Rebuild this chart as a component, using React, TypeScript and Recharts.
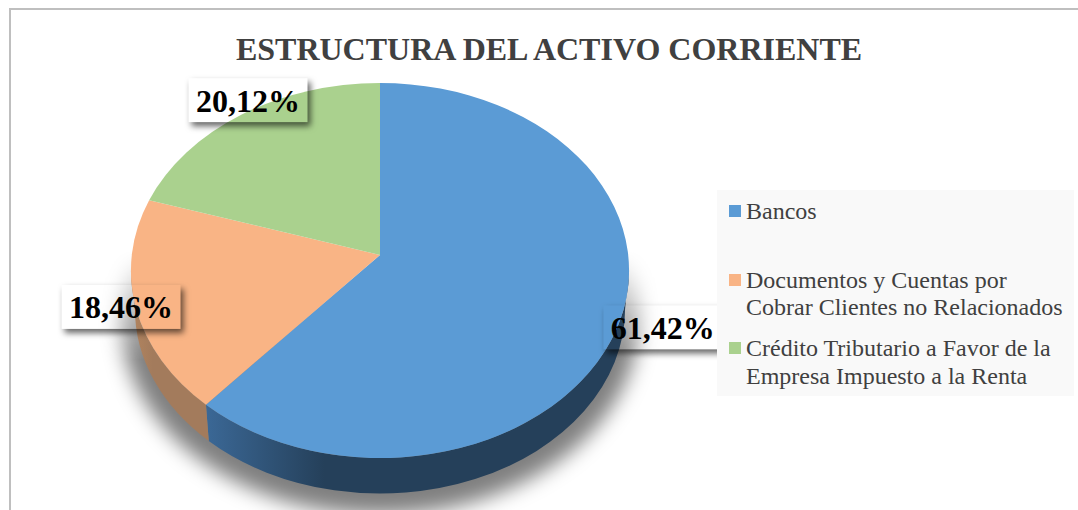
import React from "react";
import { PieChart, Pie, Cell, Legend } from "recharts";

const titleText = "ESTRUCTURA DEL ACTIVO CORRIENTE";
const categories = [
  "Bancos",
  "Documentos y Cuentas por Cobrar Clientes no Relacionados",
  "Crédito Tributario a Favor de la Empresa Impuesto a la Renta",
];
const values = [61.42, 18.46, 20.12];
const topColors = ["#5b9bd5", "#f9b485", "#aad18e"];
const wallStart = ["#3b6896", "#b3855f", "#6c8a5a"];
const wallEnd = ["#25405a", "#a37b5c", "#6c8a5a"];
const labelOffsets: [number, number][] = [[43.5, 5], [-14.5, 0.5], [5.5, -14]];

const chartData = categories.map((name, i) => ({ name, value: values[i] }));

const SERIF = "'Liberation Serif', serif";
const TILT = 0.0827;
const SCALE_Y = 0.748;
const SCALE_X = 0.9968;
const DEPTH = 38.5;
const FLOOR_SCALE = 0.984;

function project(cx: number, cy: number, r: number, deg: number) {
  const a = (deg * Math.PI) / 180;
  const u = Math.sin(a);
  const v = -Math.cos(a);
  const w = 1 - TILT * v;
  return { x: cx + (SCALE_X * r * u) / w, y: cy + (SCALE_Y * r * v) / w };
}

const rxOf = (r: number) => (SCALE_X * r) / Math.sqrt(1 - TILT * TILT);
const ryOf = (r: number) => (SCALE_Y * r) / (1 - TILT * TILT);
const offY = (r: number) => (SCALE_Y * r * TILT) / (1 - TILT * TILT);

function SliceShape(props: any) {
  const { cx, cy, outerRadius: r, startAngle, endAngle, fill, index } = props;
  const a1 = 90 - startAngle;
  const a2 = 90 - endAngle;
  const p1 = project(cx, cy, r, a1);
  const p2 = project(cx, cy, r, a2);
  const rx = rxOf(r);
  const ry = ryOf(r);
  const ey = cy + offY(r);
  const large = a2 - a1 > 180 ? 1 : 0;
  const face = `M${cx},${cy} L${p1.x},${p1.y} A${rx},${ry} 0 ${large} 1 ${p2.x},${p2.y} Z`;

  const floor = (q: { x: number; y: number }) => ({
    x: cx + (q.x - cx) * FLOOR_SCALE,
    y: ey + (q.y - ey) * FLOOR_SCALE + DEPTH,
  });

  const limit = (Math.acos(-TILT) * 180) / Math.PI;
  const w1 = Math.max(a1, limit);
  const w2 = Math.min(a2, 360 - limit);
  let wall = null;
  if (w2 > w1) {
    const q1 = project(cx, cy, r, w1);
    const q2 = project(cx, cy, r, w2);
    const f1 = floor(q1);
    const f2 = floor(q2);
    const big = w2 - w1 > 180 ? 1 : 0;
    const d = `M${q1.x},${q1.y} A${rx},${ry} 0 ${big} 1 ${q2.x},${q2.y} L${f2.x},${f2.y} A${rx * FLOOR_SCALE},${ry * FLOOR_SCALE} 0 ${big} 0 ${f1.x},${f1.y} Z`;
    wall = (
      <>
        <defs>
          <linearGradient id={`wall${index}`} x1="1" y1="0" x2="0" y2="0">
            <stop offset="0" stopColor={wallEnd[index]} />
            <stop offset="0.72" stopColor={wallEnd[index]} />
            <stop offset="1" stopColor={wallStart[index]} />
          </linearGradient>
        </defs>
        <path d={d} fill={`url(#wall${index})`} />
      </>
    );
  }
  return (
    <g>
      {index === 0 && (
        <g mask="url(#shadowFade)">
          <g filter="url(#pieShadow)">
            <ellipse cx={cx} cy={ey + DEPTH + 10} rx={rx + 10} ry={ry + 8} fill="#000" fillOpacity={0.5} />
          </g>
        </g>
      )}
      {wall}
      <path d={face} fill={fill} />
    </g>
  );
}

function SliceLabel(props: any) {
  const { cx, cy, outerRadius: r, midAngle, index, value } = props;
  const p = project(cx, cy, r, 90 - midAngle);
  const x = p.x + labelOffsets[index][0];
  const y = p.y + labelOffsets[index][1];
  return (
    <g>
      <rect x={x - 59.5} y={y - 22} width={119} height={44} fill="#fff" filter="url(#boxShadow)" />
      <text x={x} y={y + 11.5} textAnchor="middle" fontFamily={SERIF} fontWeight={700} fontSize={32} fill="#000">
        {value.toFixed(2).replace(".", ",")}%
      </text>
    </g>
  );
}

function LegendBox(props: any) {
  const { payload } = props;
  return (
    <div style={{ width: 357, height: 206, background: "#f9f9f9", fontFamily: SERIF, fontSize: 24, lineHeight: "27.5px", color: "#404040", paddingTop: 8, boxSizing: "border-box" }}>
      {(payload || []).map((item: any) => (
        <div key={item.value} style={{ position: "relative", height: 68.5, paddingLeft: 29 }}>
          <span style={{ position: "absolute", left: 12, top: 7, width: 12, height: 12, background: item.color }} />
          <div style={{ width: 322 }}>{item.value}</div>
        </div>
      ))}
    </div>
  );
}

export default function App() {
  return (
    <div style={{ position: "absolute", left: 0, top: 0, width: 1078, height: 510, overflow: "hidden", background: "#fff" }}>
      <div style={{ position: "absolute", left: 9, top: 8, right: 0, bottom: 0, borderLeft: "2px solid #bfbfbf", borderTop: "2px solid #bfbfbf" }} />
      <svg width={0} height={0} style={{ position: "absolute" }}>
        <defs>
          <filter id="pieShadow" x="-10%" y="-10%" width="120%" height="120%">
            <feGaussianBlur stdDeviation="10" />
          </filter>
          <linearGradient id="fadeGrad" gradientUnits="userSpaceOnUse" x1="0" y1="250" x2="0" y2="360">
            <stop offset="0" stopColor="#000" />
            <stop offset="1" stopColor="#fff" />
          </linearGradient>
          <mask id="shadowFade" maskUnits="userSpaceOnUse" x="0" y="0" width="1078" height="510">
            <rect x={0} y={0} width={1078} height={510} fill="url(#fadeGrad)" />
          </mask>
          <filter id="boxShadow" x="-20%" y="-40%" width="140%" height="180%">
            <feGaussianBlur in="SourceAlpha" stdDeviation="3" result="b" />
            <feOffset in="b" dx="3" dy="4" result="o" />
            <feFlood floodColor="#000" floodOpacity="0.6" result="c" />
            <feComposite in="c" in2="o" operator="in" result="s" />
            <feComposite in="s" in2="SourceAlpha" operator="out" />
          </filter>
        </defs>
      </svg>
      <div style={{ position: "absolute", left: 0, top: 0 }}>
        <PieChart width={1078} height={510} margin={{ top: 0, right: 0, bottom: 0, left: 0 }}>
          <text x={549} y={60} textAnchor="middle" fontFamily={SERIF} fontWeight={700} fontSize={32} fill="#404040">
            {titleText}
          </text>
          <Pie
            data={chartData}
            dataKey="value"
            nameKey="name"
            cx={380}
            cy={255}
            outerRadius={249}
            startAngle={90}
            endAngle={-270}
            stroke="none"
            isAnimationActive={false}
            shape={SliceShape}
            label={SliceLabel}
            labelLine={false}
          >
            {chartData.map((d, i) => (
              <Cell key={d.name} fill={topColors[i]} />
            ))}
          </Pie>
          <Legend
            layout="vertical"
            itemSorter={null}
            content={LegendBox}
            wrapperStyle={{ position: "absolute", left: 717, top: 190, width: 357, height: 206 }}
          />
        </PieChart>
      </div>
    </div>
  );
}
